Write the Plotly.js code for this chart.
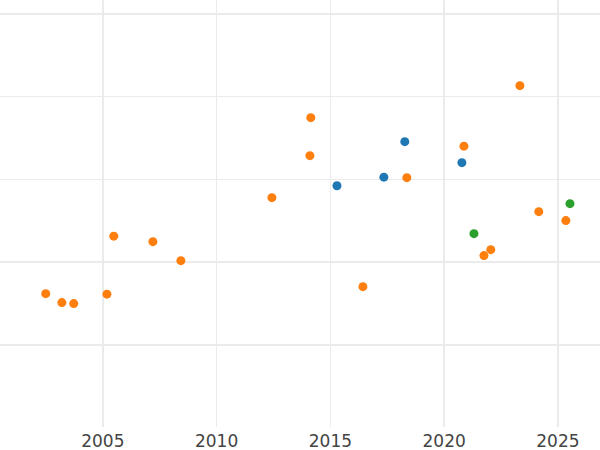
<!DOCTYPE html>
<html>
<head>
<meta charset="utf-8">
<script src="https://cdn.plot.ly/plotly-3.0.1.min.js"></script>
<style>html,body{margin:0;padding:0;background:#fff;}#chart{width:600px;height:450px;}</style>
</head>
<body>
<div id="chart"></div>
<script>
// Series A (blue)
const blueX = [2015.29, 2017.35, 2018.27, 2020.78];
const blueY = [2.924, 3.027, 3.456, 3.202];
// Series B (orange)
const orangeX = [2002.49, 2003.20, 2003.72, 2005.18, 2005.48, 2007.20, 2008.43, 2012.43, 2014.14, 2014.10, 2016.43, 2018.36, 2020.87, 2023.33, 2021.75, 2022.05, 2024.16, 2025.35];
const orangeY = [1.619, 1.511, 1.499, 1.613, 2.314, 2.248, 2.018, 2.779, 3.746, 3.287, 1.704, 3.021, 3.402, 4.133, 2.079, 2.151, 2.610, 2.502];
// Series C (green)
const greenX = [2021.31, 2025.53];
const greenY = [2.344, 2.707];

const xTicks = [2005, 2010, 2015, 2020, 2025];

function trace(x, y, color) {
  return {x: x, y: y, type: 'scatter', mode: 'markers',
    marker: {color: color, size: 9}, showlegend: false, hoverinfo: 'skip'};
}

const data = [
  trace(blueX, blueY, '#1f77b4'),
  trace(orangeX, orangeY, '#ff7f0e'),
  trace(greenX, greenY, '#2ca02c')
];

const layout = {
  width: 600, height: 450,
  margin: {l: 0, r: 0, t: 0, b: 23, pad: 0},
  paper_bgcolor: '#fff', plot_bgcolor: '#fff',
  showlegend: false,
  font: {family: 'DejaVu Sans', color: '#444', size: 17},
  xaxis: {
    range: [2000.48, 2026.85],
    tickvals: xTicks, ticktext: xTicks.map(String),
    showgrid: true, gridcolor: '#ebebeb', gridwidth: 1.5,
    zeroline: false, showline: false, ticks: '',
    ticklabelstandoff: 2,
    tickfont: {family: 'DejaVu Sans', size: 17, color: '#444'}
  },
  yaxis: {
    range: [0.008, 5.168], dtick: 1, tick0: 0,
    showgrid: true, gridcolor: '#ebebeb', gridwidth: 1.5,
    zeroline: false, showline: false, ticks: '', showticklabels: false
  }
};

Plotly.newPlot('chart', data, layout, {displayModeBar: false, staticPlot: true});
</script>
</body>
</html>
